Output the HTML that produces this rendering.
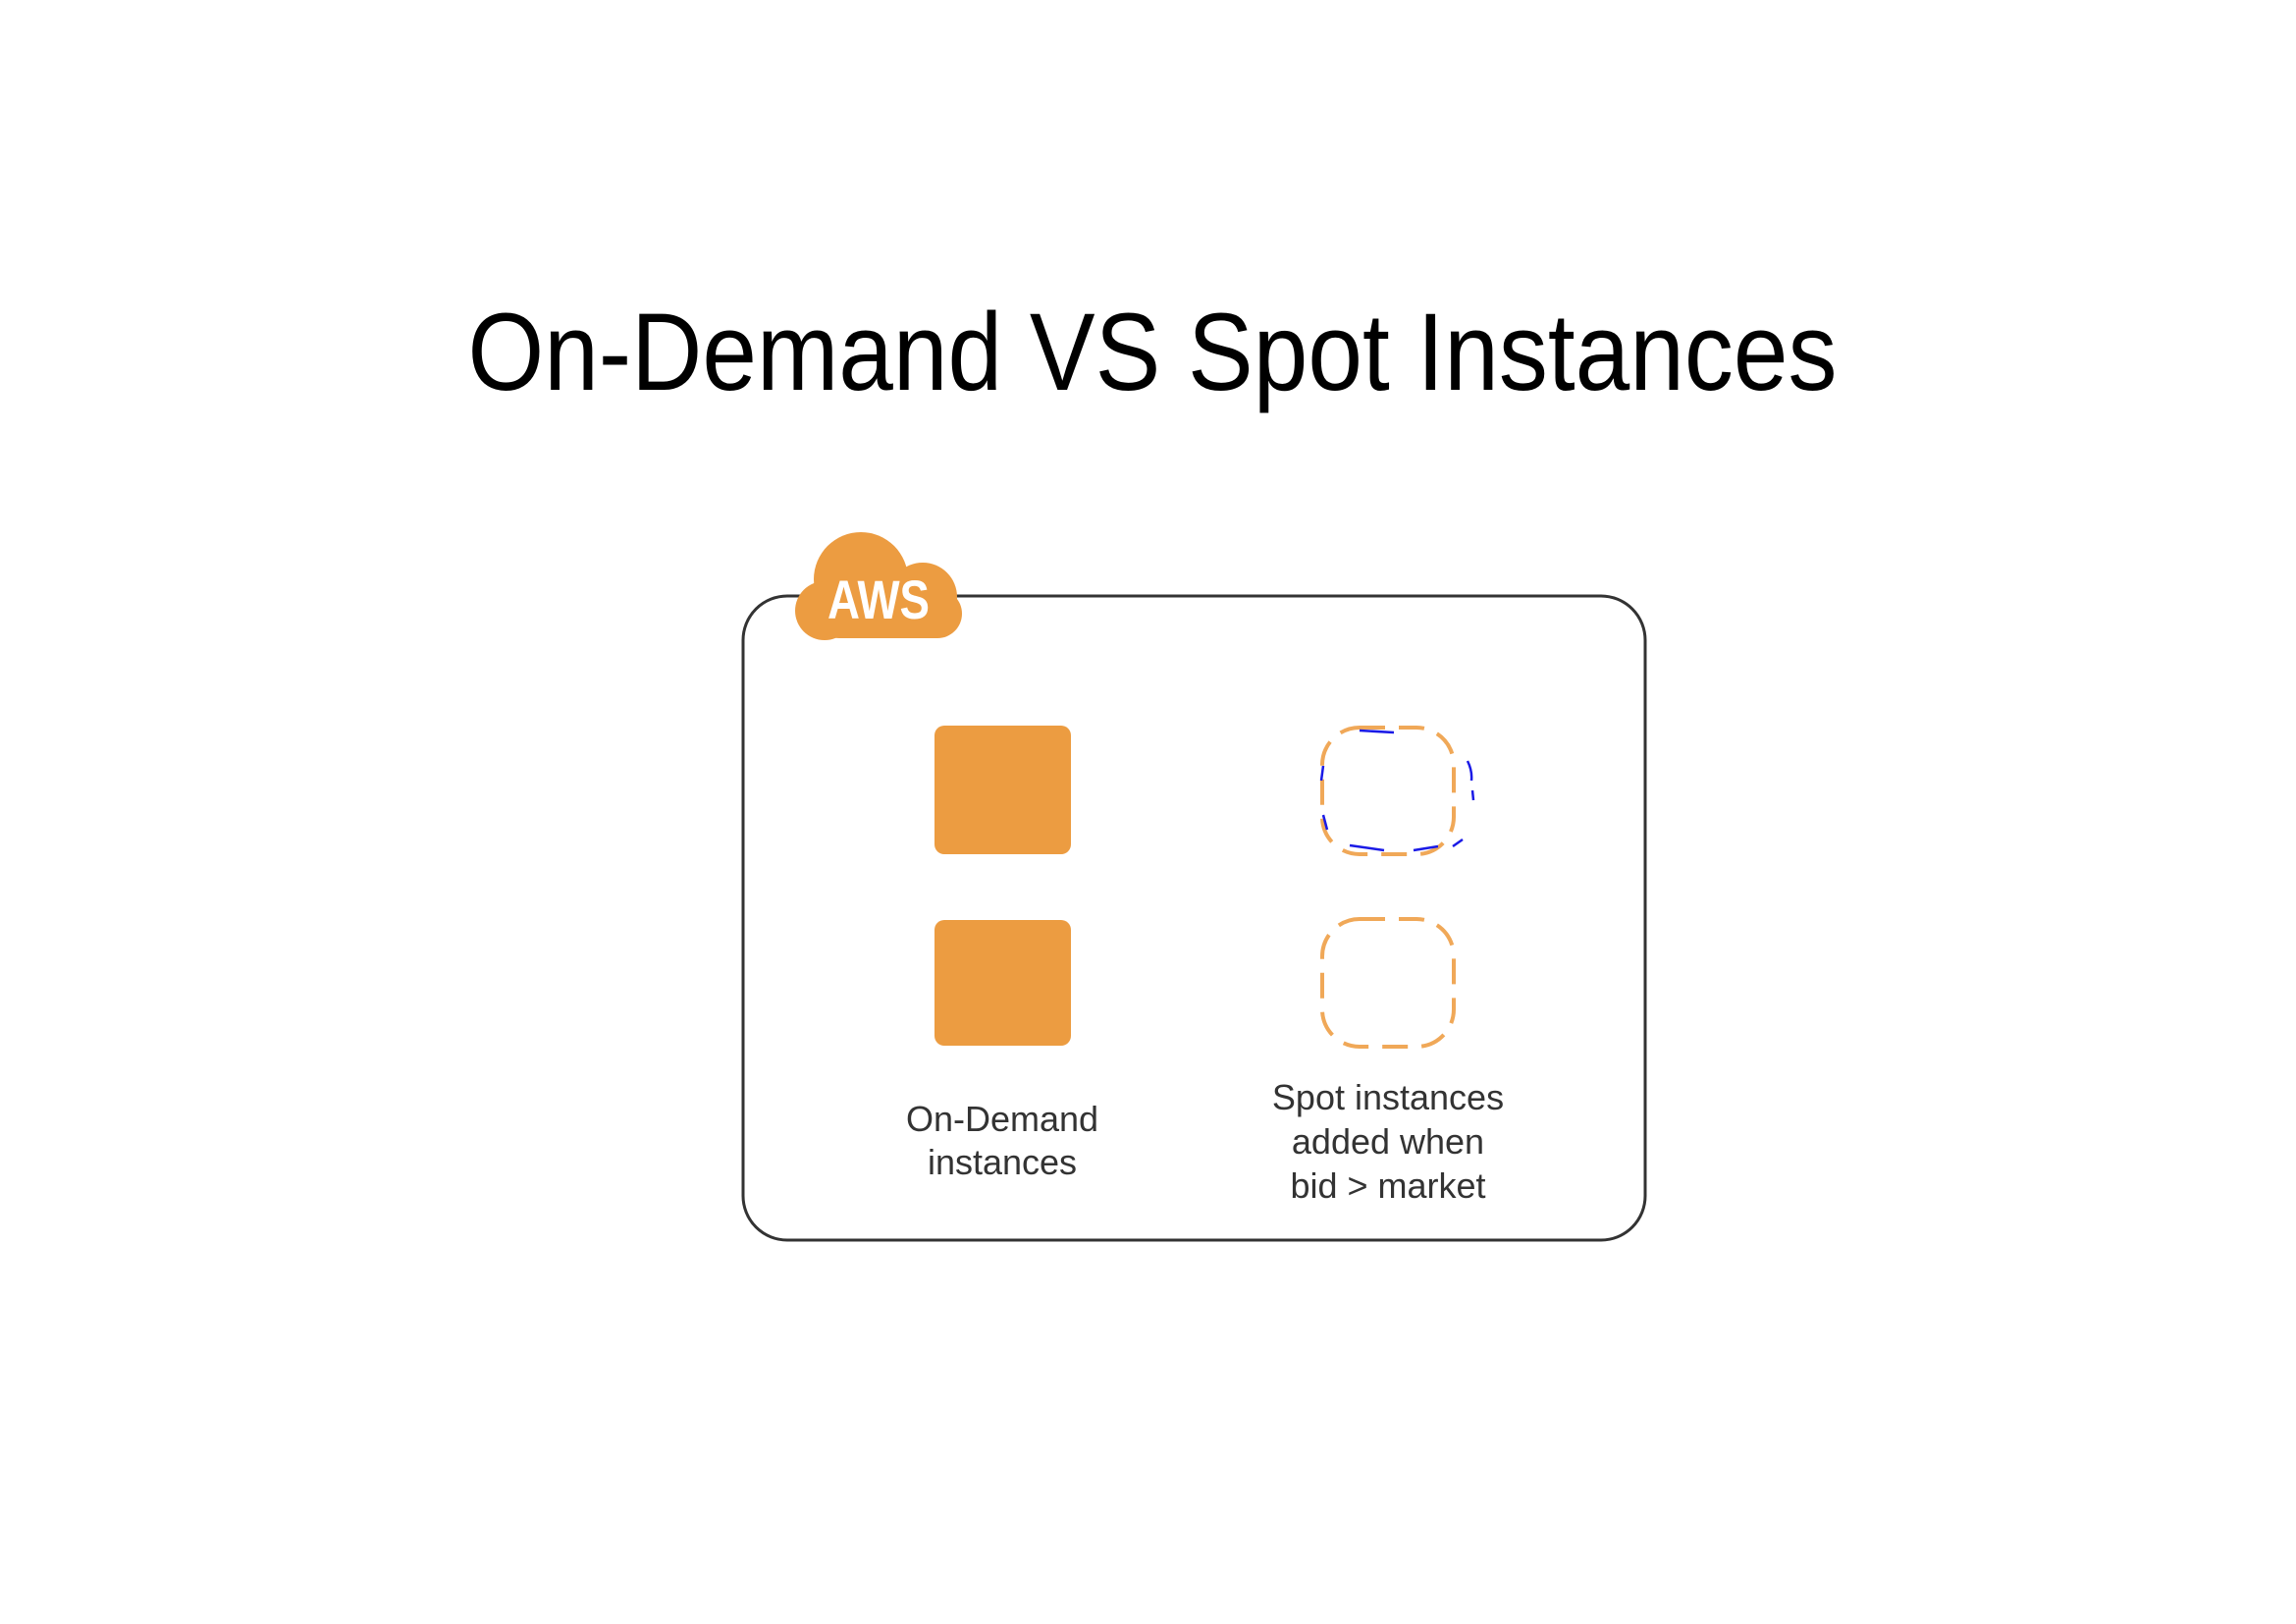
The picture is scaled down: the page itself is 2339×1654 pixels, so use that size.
<!DOCTYPE html>
<html><head><meta charset="utf-8"><style>
html,body{margin:0;padding:0;background:#fff;width:2339px;height:1654px;overflow:hidden}
</style></head><body>
<svg width="2339" height="1654" viewBox="0 0 2339 1654" xmlns="http://www.w3.org/2000/svg">
<text x="1174" y="397" font-family="Liberation Sans, sans-serif" font-size="112" text-anchor="middle" fill="#000" textLength="1395" lengthAdjust="spacingAndGlyphs">On-Demand VS Spot Instances</text>
<rect x="757" y="607" width="919" height="656" rx="45" fill="none" stroke="#333" stroke-width="3"/>
<g fill="#ec9c41">
<circle cx="877" cy="590" r="48"/>
<circle cx="940" cy="608" r="35"/>
<circle cx="840" cy="622" r="30"/>
<rect x="830" y="600" width="150" height="50" rx="25"/>
</g>
<text x="895" y="630" font-family="Liberation Sans, sans-serif" font-weight="bold" font-size="56" fill="#fff" text-anchor="middle" textLength="104" lengthAdjust="spacingAndGlyphs">AWS</text>
<rect x="952" y="739" width="139" height="131" rx="10" fill="#ec9c41"/>
<rect x="952" y="937" width="139" height="128" rx="10" fill="#ec9c41"/>
<rect x="1347" y="741" width="134" height="129" rx="38" fill="none" stroke="#f0a858" stroke-width="4" stroke-dasharray="26 14"/>
<rect x="1347" y="936" width="134" height="130" rx="38" fill="none" stroke="#f0a858" stroke-width="4" stroke-dasharray="26 14"/>
<path d="M1385 744 L1420 746 M1495 775 Q1500 785 1499 795 M1500 805 L1501 815 M1490 855 L1480 862 M1465 862 L1440 866 M1410 866 L1375 861 M1352 845 L1348 830 M1346 795 L1348 780" fill="none" stroke="#1a1ae6" stroke-width="2.5"/>
<g font-family="Liberation Sans, sans-serif" font-size="36" fill="#333" text-anchor="middle">
<text x="1021" y="1152">On-Demand</text>
<text x="1021" y="1196">instances</text>
<text x="1414" y="1130">Spot instances</text>
<text x="1414" y="1175">added when</text>
<text x="1414" y="1220">bid &gt; market</text>
</g>
</svg>
</body></html>
